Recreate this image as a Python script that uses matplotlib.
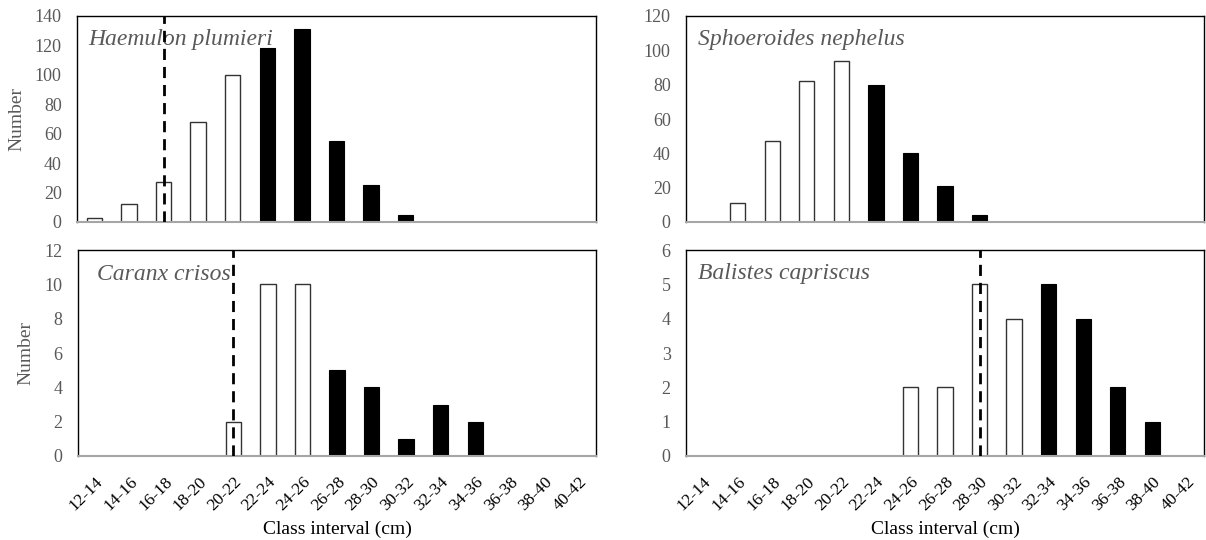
import matplotlib
matplotlib.use("Agg")
import matplotlib.pyplot as plt
import numpy as np

plt.rcParams['font.family'] = ['Liberation Serif', 'DejaVu Serif']

classes = ["12-14", "14-16", "16-18", "18-20", "20-22", "22-24", "24-26", "26-28",
           "28-30", "30-32", "32-34", "34-36", "36-38", "38-40", "40-42"]

haemulon = [3, 12, 27, 68, 100, 118, 131, 55, 25, 5, 0, 0, 0, 0, 0]
sphoeroides = [0, 11, 47, 82, 94, 80, 40, 21, 4, 0, 0, 0, 0, 0, 0]
caranx = [0, 0, 0, 0, 2, 10, 10, 5, 4, 1, 3, 2, 0, 0, 0]
balistes = [0, 0, 0, 0, 0, 0, 2, 2, 5, 4, 5, 4, 2, 1, 0]

panels = [
    dict(name="Haemulon plumieri", values=haemulon, black_from="22-24", dash="16-18",
         yticks=[0, 20, 40, 60, 80, 100, 120, 140], box=(77, 596, 16, 222), bottom=False,
         txt=(0.021, 0.885), ylabel=True),
    dict(name="Sphoeroides nephelus", values=sphoeroides, black_from="22-24", dash=None,
         yticks=[0, 20, 40, 60, 80, 100, 120], box=(686, 1204, 16, 222), bottom=False,
         txt=(0.023, 0.885), ylabel=False),
    dict(name="Caranx crisos", values=caranx, black_from="26-28", dash="20-22",
         yticks=[0, 2, 4, 6, 8, 10, 12], box=(78, 596, 250, 456), bottom=True,
         txt=(0.037, 0.88), ylabel=True),
    dict(name="Balistes capriscus", values=balistes, black_from="32-34", dash="28-30",
         yticks=[0, 1, 2, 3, 4, 5, 6], box=(686, 1204, 250, 456), bottom=True,
         txt=(0.023, 0.885), ylabel=False),
]

W, H = 1206, 540
fig = plt.figure(figsize=(W / 100, H / 100), dpi=100)

gray_txt = "#595959"
x = np.arange(len(classes))
for p in panels:
    l, r, t, b = p["box"]
    ax = fig.add_axes([l / W, 1 - b / H, (r - l) / W, (b - t) / H])
    bi = classes.index(p["black_from"])
    for i, v in enumerate(p["values"]):
        if v == 0:
            continue
        if i >= bi:
            ax.bar(x[i], v, width=0.44, color="black", edgecolor="black", linewidth=0.8, zorder=2)
        else:
            ax.bar(x[i], v, width=0.44, color="white", edgecolor="#333333", linewidth=1.0, zorder=2)
    ax.set_xlim(-0.5, len(classes) - 0.5)
    ax.set_ylim(0, p["yticks"][-1])
    ax.set_yticks(p["yticks"])
    ax.tick_params(axis="y", length=0, labelsize=13, labelcolor=gray_txt, pad=11)
    ax.tick_params(axis="x", length=0)
    if p["bottom"]:
        ax.set_xticks(x)
        ax.set_xticklabels(classes, rotation=45, ha="right", rotation_mode="anchor",
                           fontsize=12.5, color="black")
        ax.tick_params(axis="x", pad=13)
        ax.set_xlabel("Class interval (cm)", fontsize=14, color="black", labelpad=5)
    else:
        ax.set_xticks([])
    if p["ylabel"]:
        ax.set_ylabel("Number", fontsize=14, color=gray_txt, labelpad=7)
    for s in ["top", "right", "left"]:
        ax.spines[s].set_color("black")
        ax.spines[s].set_linewidth(1.0)
    ax.spines["bottom"].set_color("#a6a6a6")
    ax.spines["bottom"].set_linewidth(1.5)
    ax.spines["bottom"].set_zorder(3)
    if p["dash"] is not None:
        di = classes.index(p["dash"])
        ax.axvline(x[di], color="black", linestyle=(0, (4, 2.5)), linewidth=2, zorder=4)
    ax.text(p["txt"][0], p["txt"][1], p["name"], transform=ax.transAxes, fontsize=17,
            style="italic", color=gray_txt, va="center", ha="left", zorder=3)

fig.savefig("out.png", dpi=100)
